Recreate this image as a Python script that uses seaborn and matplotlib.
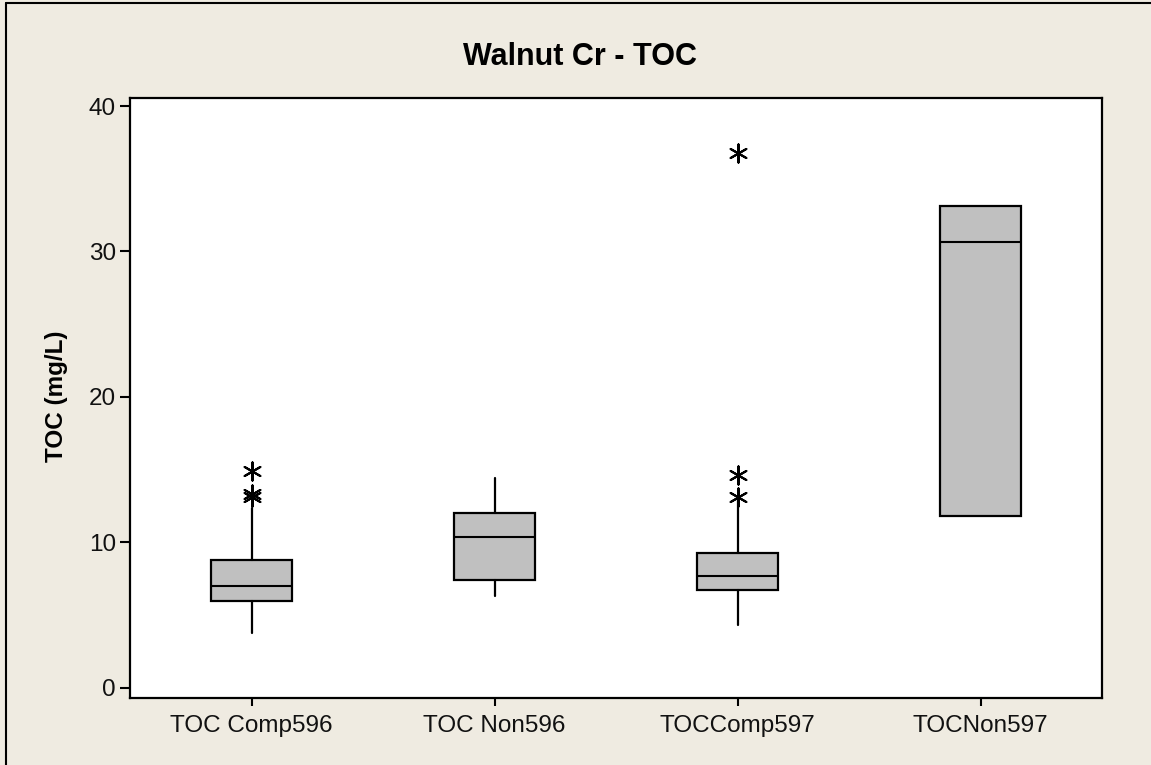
import matplotlib
matplotlib.use("Agg")
import matplotlib.pyplot as plt
from matplotlib.lines import Line2D
import pandas as pd
import seaborn as sns

# Summary statistics of TOC (mg/L) per sampling group
groups = ["TOC Comp596", "TOC Non596", "TOCComp597", "TOCNon597"]
q1 = [6.0, 7.4, 6.7, 11.8]
medians = [7.0, 10.4, 7.7, 30.65]
q3 = [8.8, 12.05, 9.3, 33.1]
whisker_low = [3.8, 6.3, 4.35, 11.8]
whisker_high = [12.4, 14.4, 13.0, 33.1]
outliers = [[14.9, 13.3, 13.1], [], [36.8, 14.65, 13.15], []]

title = "Walnut Cr - TOC"
ylabel = "TOC (mg/L)"
yticks = [0, 10, 20, 30, 40]

sns.set_theme(style="white")
plt.rcParams["font.family"] = ["Liberation Sans", "DejaVu Sans"]

bg = "#EFEBE1"
fig = plt.figure(figsize=(11.51, 7.65), dpi=100, facecolor=bg)
ax = fig.add_axes([130 / 1151, 1 - 698 / 765, (1102 - 130) / 1151, (698 - 98) / 765])
ax.set_facecolor("white")

stats = []
for i, g in enumerate(groups):
    stats.append(dict(label=g, q1=q1[i], med=medians[i], q3=q3[i],
                      whislo=whisker_low[i], whishi=whisker_high[i], fliers=[]))

ax.bxp(stats, positions=range(len(groups)), widths=0.33, patch_artist=True,
       showfliers=False, showcaps=False,
       boxprops=dict(facecolor="#C0C0C0", edgecolor="black", linewidth=1.6),
       medianprops=dict(color="black", linewidth=1.5),
       whiskerprops=dict(color="black", linewidth=1.6))

out_df = pd.DataFrame(
    [(i, v) for i, vals in enumerate(outliers) for v in vals],
    columns=["pos", "toc"])
sns.scatterplot(data=out_df, x="pos", y="toc", ax=ax, marker=(6, 2, 0),
                s=170, color="black", linewidth=1.5, legend=False, zorder=5)

ax.set_xlim(-0.5, 3.5)
ax.set_ylim(-0.69, 40.55)
ax.set_xticks(range(len(groups)))
ax.set_xticklabels(groups)
ax.set_yticks(yticks)
ax.set_xlabel("")
ax.set_ylabel("")

for side in ax.spines.values():
    side.set_visible(True)
    side.set_color("black")
    side.set_linewidth(1.6)

ax.tick_params(axis="y", which="major", direction="out", length=7, width=1.5,
               colors="black", labelsize=17.5, pad=3, left=True)
ax.tick_params(axis="x", which="major", direction="out", length=6, width=1.5,
               colors="black", labelsize=17.5, pad=6, bottom=True)
for lbl in ax.get_xticklabels() + ax.get_yticklabels():
    lbl.set_color("#111111")

fig.text(580 / 1151, 1 - 57 / 765, title, ha="center", va="center",
         fontsize=22, fontweight="bold", color="black")
fig.text(56 / 1151, 1 - 396 / 765, ylabel, ha="center", va="center",
         rotation=90, fontsize=17.5, fontweight="bold", color="black")

# Frame edges of the graph window
fig.add_artist(Line2D([6 / 1151, 6 / 1151], [0, 1 - 2.5 / 765],
                      transform=fig.transFigure, color="black", linewidth=1.5))
fig.add_artist(Line2D([6 / 1151, 1], [1 - 2.5 / 765, 1 - 2.5 / 765],
                      transform=fig.transFigure, color="black", linewidth=1.5))

fig.savefig("out.png", dpi=100, facecolor=bg)
